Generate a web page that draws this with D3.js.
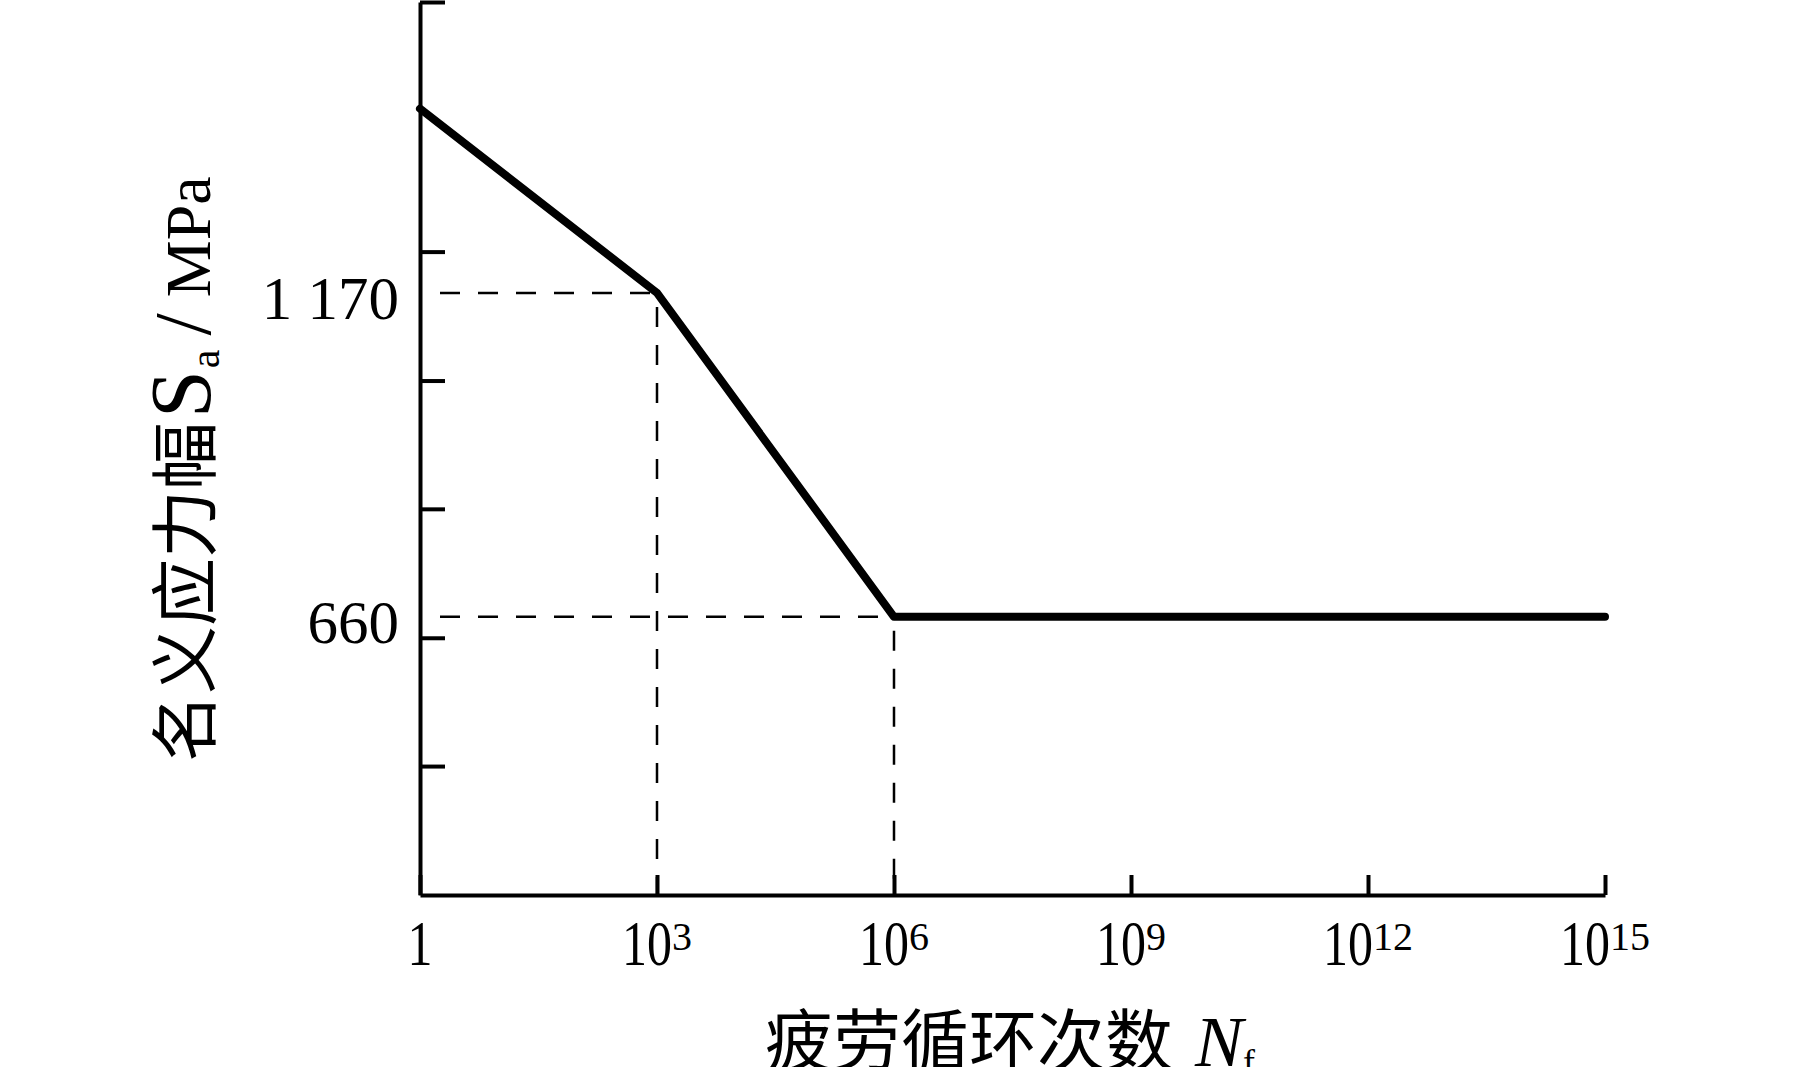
<!DOCTYPE html>
<html>
<head>
<meta charset="utf-8">
<script src="https://cdn.jsdelivr.net/npm/d3@7"></script>
<style>
  html, body { margin: 0; padding: 0; background: #fff; }
  svg { display: block; }
</style>
</head>
<body>
<script>
// ---- data ----
const cycles = [1, 1e3, 1e6, 1e15];          // N_f
const stress = [1460, 1170, 660, 660];       // S_a / MPa
const xTickValues = [1, 1e3, 1e6, 1e9, 1e12, 1e15];
const xTickBase = ["1", "10", "10", "10", "10", "10"];
const xTickExp = ["", "3", "6", "9", "12", "15"];
const yTickValues = [425, 627, 830, 1032, 1235, 1628];
const yLabelValues = [1170, 660];
const yLabelTexts = ["1 170", "660"];
const kneeCycles = [1e3, 1e6];
const kneeStress = [1170, 660];

const W = 1819, H = 1067;
const svg = d3.select("body").append("svg").attr("width", W).attr("height", H)
  .style("background", "#fff");

const x = d3.scaleLog().domain([1, 1e15]).range([420, 1605]);
const y = d3.scaleLinear().domain([222, 1628]).range([895, 2]);

const serif = "'Liberation Serif', 'DejaVu Serif', serif";
const cjk = "'Noto Sans CJK SC', 'Noto Sans CJK JP', sans-serif";

// dashed guide lines
const dash = svg.append("g").attr("fill", "none").attr("stroke", "#000")
  .attr("stroke-width", 2.5).attr("stroke-dasharray", "20,18");
kneeCycles.forEach((c, i) => {
  dash.append("line")
    .attr("x1", x(1) + 20).attr("x2", x(c))
    .attr("y1", y(kneeStress[i])).attr("y2", y(kneeStress[i]));
  dash.append("line")
    .attr("x1", x(c)).attr("x2", x(c))
    .attr("y1", y(kneeStress[i]) + 14).attr("y2", y.range()[0]);
});

// axes
const yAxis = d3.axisLeft(y).tickValues(yTickValues).tickSizeInner(-25)
  .tickSizeOuter(0).tickFormat("");
const xAxis = d3.axisBottom(x).tickValues(xTickValues).tickSizeInner(-20)
  .tickSizeOuter(0).tickFormat("");

const gy = svg.append("g").attr("transform", `translate(${x(1)},0)`).call(yAxis);
const gx = svg.append("g").attr("transform", `translate(0,${y.range()[0]})`).call(xAxis);
[gx, gy].forEach(g => {
  g.selectAll("path.domain").attr("stroke", "#000").attr("stroke-width", 4);
  g.selectAll(".tick line").attr("stroke", "#000").attr("stroke-width", 4);
});

// S-N curve
const line = d3.line().x(d => x(d[0])).y(d => y(d[1]));
svg.append("path")
  .datum(cycles.map((c, i) => [c, stress[i]]))
  .attr("d", line)
  .attr("fill", "none").attr("stroke", "#000")
  .attr("stroke-width", 8).attr("stroke-linejoin", "round").attr("stroke-linecap", "round");

// y labels
yLabelValues.forEach((v, i) => {
  svg.append("text").attr("x", x(1) - 21).attr("y", y(v) + 26)
    .attr("text-anchor", "end").attr("font-family", serif)
    .attr("font-size", 61).attr("fill", "#000").text(yLabelTexts[i]);
});

// x tick labels
xTickValues.forEach((v, i) => {
  const g = svg.append("g").attr("transform", `translate(${x(v)},965)`);
  const base = g.append("text").attr("font-family", serif).attr("font-size", 50)
    .attr("fill", "#000").attr("transform", "scale(1,1.26)").text(xTickBase[i]);
  const bw = base.node().getComputedTextLength();
  let sw = 0, sup = null;
  if (xTickExp[i]) {
    sup = g.append("text").attr("font-family", serif).attr("font-size", 40)
      .attr("fill", "#000").attr("y", -15).text(xTickExp[i]);
    sw = sup.node().getComputedTextLength();
  }
  const start = -(bw + sw) / 2;
  base.attr("x", start);
  if (sup) sup.attr("x", start + bw);
});

// y axis title
const yt = svg.append("text").attr("transform", "translate(210,762) rotate(-90)")
  .attr("fill", "#000");
yt.append("tspan").attr("font-family", cjk).attr("font-size", 68).text("名义应力幅");
yt.append("tspan").attr("font-family", serif).attr("font-size", 86).attr("dx", 4).text("S");
yt.append("tspan").attr("font-family", serif).attr("font-size", 42).attr("dy", 9).attr("dx", 2).text("a");
yt.append("tspan").attr("font-family", serif).attr("font-size", 80).attr("dy", -9).attr("dx", 14).text("/");
yt.append("tspan").attr("font-family", serif).attr("font-size", 64).attr("dx", 16).text("MPa");

// x axis title
const xt = svg.append("text")
  .attr("x", 1010).attr("y", 1066)
  .attr("text-anchor", "middle").attr("fill", "#000");
xt.append("tspan").attr("font-family", cjk).attr("font-size", 68).text("疲劳循环次数");
xt.append("tspan").attr("font-family", serif).attr("font-size", 72).attr("font-style", "italic")
  .attr("dx", 22).text("N");
xt.append("tspan").attr("font-family", serif).attr("font-size", 36).attr("dy", 8).text("f");
</script>
</body>
</html>
